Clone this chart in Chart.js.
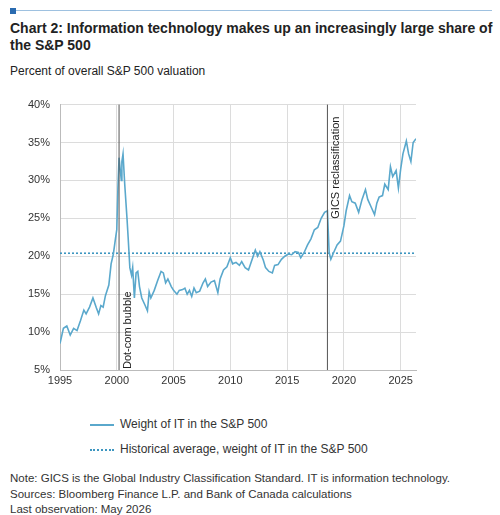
<!DOCTYPE html>
<html><head><meta charset="utf-8">
<script src="https://cdn.jsdelivr.net/npm/chart.js@4"></script>
<style>
body{margin:0;width:500px;height:515px;background:#fff;font-family:"Liberation Sans",Arial,sans-serif;color:#222;position:relative;overflow:hidden}
#bar{position:absolute;left:10px;top:8px;width:6px;height:6px;background:#2a6bb0}
#rule{position:absolute;left:16px;top:10px;width:476px;height:1px;background:#9ec1e0}
#title{position:absolute;left:10px;top:20px;font-weight:bold;font-size:14px;line-height:17px;width:488px}
#sub{position:absolute;left:10px;top:64px;font-size:12px}
#wrap{position:absolute;left:0;top:88px;width:500px;height:300px}
.leg{position:absolute;left:90px;font-size:12px;color:#333}
.leg span{display:inline-block;width:24px;vertical-align:middle;margin-right:6px}
#notes{position:absolute;left:10px;top:471px;font-size:11.5px;line-height:15.5px;color:#333}
</style></head><body>
<div id="bar"></div><div id="rule"></div>
<div id="title">Chart 2: Information technology makes up an increasingly large share of the S&amp;P 500</div>
<div id="sub">Percent of overall S&amp;P 500 valuation</div>
<div id="wrap"><canvas id="c" width="500" height="300"></canvas></div>
<div class="leg" style="top:417px"><span style="border-top:2px solid #5aa8cc"></span>Weight of IT in the S&amp;P 500</div>
<div class="leg" style="top:442px"><span style="border-top:2px dotted #3d96c0"></span>Historical average, weight of IT in the S&amp;P 500</div>
<div id="notes">Note: GICS is the Global Industry Classification Standard. IT is information technology.<br>Sources: Bloomberg Finance L.P. and Bank of Canada calculations<br>Last observation: May 2026</div>
<script>
const years=[1995.0,1995.3,1995.6,1995.9,1996.2,1996.5,1996.8,1997.1,1997.3,1997.6,1997.9,1998.2,1998.4,1998.6,1998.8,1999.0,1999.3,1999.5,1999.7,1999.9,2000.0,2000.1,2000.2,2000.3,2000.4,2000.45,2000.55,2000.7,2000.9,2001.0,2001.15,2001.3,2001.4,2001.55,2001.7,2001.85,2002.0,2002.2,2002.5,2002.7,2002.85,2003.0,2003.3,2003.6,2003.9,2004.1,2004.3,2004.5,2004.8,2005.0,2005.3,2005.5,2005.8,2006.0,2006.2,2006.4,2006.6,2006.8,2007.0,2007.3,2007.6,2007.8,2008.0,2008.3,2008.6,2008.9,2009.1,2009.4,2009.7,2010.0,2010.2,2010.5,2010.8,2011.0,2011.3,2011.6,2011.9,2012.2,2012.4,2012.6,2012.9,2013.1,2013.4,2013.7,2013.9,2014.2,2014.5,2014.8,2015.1,2015.4,2015.7,2016.0,2016.2,2016.5,2016.8,2017.1,2017.4,2017.7,2018.0,2018.3,2018.55,2018.7,2018.85,2019.1,2019.4,2019.7,2020.0,2020.2,2020.5,2020.7,2021.0,2021.3,2021.6,2021.9,2022.1,2022.4,2022.7,2022.9,2023.1,2023.4,2023.6,2023.9,2024.1,2024.3,2024.6,2024.8,2025.0,2025.2,2025.5,2025.7,2025.9,2026.1,2026.35];
const itWeight=[8.5,10.5,10.8,9.6,10.5,10.2,11.5,12.9,12.4,13.3,14.5,13.2,12.4,13.5,13.3,14.8,16.2,19.0,20.3,22.5,23.5,29,33.0,31.5,30,32.5,33.5,29.5,25,22.5,18.5,17.5,18.5,14.5,17.8,18.0,16.0,14.5,13.5,12.8,15.3,14.5,15.5,16.8,18.0,17.8,16.5,17.0,16.0,15.5,15.0,15.5,15.6,15.8,15.0,15.5,14.7,15.8,15.2,15.4,16.5,17.0,16.0,16.6,16.8,15.2,17.0,18.2,18.6,19.8,19.0,19.2,18.8,19.3,18.5,18.2,19.5,20.8,20.0,20.6,19.5,18.5,18.0,17.8,18.8,18.9,19.6,20.0,20.3,20.2,20.6,20.5,19.8,20.5,21.5,22.3,23.5,23.8,25.0,25.8,26.0,20.5,19.6,20.5,21.5,22.0,24.0,26.0,28.0,27.2,27.0,25.8,27.5,28.8,27.5,26.5,25.5,27.0,27.8,28.0,29.5,28.8,31.8,30.5,31.3,29.0,31.5,33.5,35.2,33.5,32.5,35.0,35.5];
const historicalAverage=20.4;
const xTicks=[1995,2000,2005,2010,2015,2020,2025];
const yTicks=[5,10,15,20,25,30,35,40];
const events=[{x:2000.2,label:'Dot-com bubble',side:'bottom'},{x:2018.55,label:'GICS reclassification',side:'top'}];
const xMin=1995,xMax=2026.35;

const evPlugin={id:'ev',afterDatasetsDraw(ch){
 const {ctx,chartArea:a,scales:{x}}=ch;
 ctx.save();
 events.forEach(e=>{
  const px=x.getPixelForValue(e.x);
  ctx.strokeStyle='#555';ctx.lineWidth=1;
  ctx.beginPath();ctx.moveTo(px,a.top);ctx.lineTo(px,a.bottom);ctx.stroke();
  ctx.save();ctx.translate(px+9,e.side==='bottom'?a.bottom-1:a.top+12);ctx.rotate(-Math.PI/2);
  ctx.fillStyle='#222';ctx.font='11px "Liberation Sans",Arial';
  ctx.textAlign=e.side==='bottom'?'left':'right';ctx.textBaseline='middle';
  ctx.fillText(e.label,0,0);ctx.restore();
 });
 ctx.restore();
}};

new Chart(document.getElementById('c'),{
 type:'scatter',
 data:{datasets:[
  {data:years.map((y,i)=>({x:y,y:itWeight[i]})),showLine:true,borderColor:'#5aa8cc',borderWidth:1.6,pointRadius:0,tension:0,order:1},
  {data:[{x:xMin,y:historicalAverage},{x:xMax,y:historicalAverage}],showLine:true,borderColor:'#3d96c0',borderWidth:1.6,borderDash:[2,2],pointRadius:0,order:2}
 ]},
 options:{responsive:false,animation:false,
  layout:{padding:{top:13,right:84,left:0,bottom:0}},
  plugins:{legend:{display:false},tooltip:{enabled:false}},
  scales:{
   x:{type:'linear',min:xMin,max:xMax,
     afterBuildTicks:s=>{s.ticks=xTicks.map(v=>({value:v}));},
     afterFit:s=>{s.height=18;},
     ticks:{color:'#333',font:{size:11,family:'"Liberation Sans",Arial'},maxRotation:0,padding:4,callback:v=>String(v)},
     grid:{color:'#dcdcdc',drawTicks:false},border:{color:'#bbb'}},
   y:{min:5,max:40,
     afterBuildTicks:s=>{s.ticks=yTicks.map(v=>({value:v}));},
     afterFit:s=>{s.width=60;},
     ticks:{color:'#333',font:{size:11,family:'"Liberation Sans",Arial'},padding:10,callback:v=>v+'%'},
     grid:{color:'#dcdcdc',drawTicks:false},border:{color:'#bbb'}}
  }},
 plugins:[evPlugin]
});
</script>
</body></html>
